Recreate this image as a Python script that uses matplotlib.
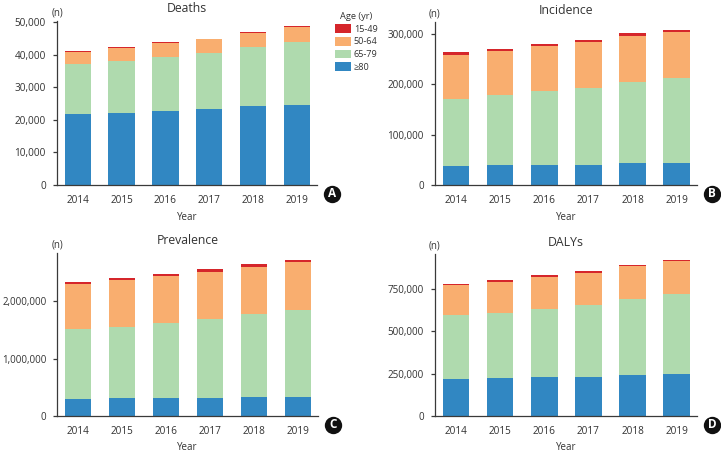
import matplotlib
matplotlib.use("Agg")
import matplotlib.pyplot as plt
from matplotlib.patches import Patch
import numpy as np

plt.rcParams['font.family'] = ['Open Sans', 'DejaVu Sans']

years = ["2014", "2015", "2016", "2017", "2018", "2019"]
age_groups = ["15-49", "50-64", "65-79", "\u226580"]

# Deaths (n)
deaths_80 = [21800, 22100, 22800, 23300, 24100, 24500]
deaths_65 = [15300, 16000, 16400, 17300, 18300, 19450]
deaths_50 = [3800, 4000, 4200, 4100, 4300, 4650]
deaths_15 = [300, 300, 350, 200, 300, 100]

# Incidence (n)
inc_80 = [37600, 38900, 40200, 40200, 42900, 43500]
inc_65 = [133200, 139100, 146400, 153000, 160800, 168100]
inc_50 = [87700, 87000, 89400, 90800, 92300, 91700]
inc_15 = [4500, 4000, 4000, 4000, 4600, 4700]

# Prevalence (n)
prev_80 = [302000, 314000, 308000, 320000, 331000, 331000]
prev_65 = [1210000, 1244000, 1308000, 1372000, 1442000, 1512000]
prev_50 = [790000, 808000, 820000, 825000, 826000, 837000]
prev_15 = [35000, 47000, 41000, 47000, 41000, 41000]

# DALYs (n)
daly_80 = [218500, 222000, 230000, 232000, 242000, 250000]
daly_65 = [374000, 386000, 400000, 423500, 449000, 468500]
daly_50 = [179000, 183000, 187000, 187000, 191000, 192500]
daly_15 = [8000, 12000, 12000, 13500, 10000, 10000]

colors = {"\u226580": "#3187c2", "65-79": "#afdaae", "50-64": "#f9ae6f", "15-49": "#d5262b"}

W, H = 721, 455
fig = plt.figure(figsize=(W / 100, H / 100), dpi=100)

def fx(px):
    return px / W

def fy(py):
    return 1 - py / H

panels = [
    dict(title="Deaths", letter="A", data=[deaths_80, deaths_65, deaths_50, deaths_15],
         box=(57, 317, 21, 185), ylim=50300, yticks=[0, 10000, 20000, 30000, 40000, 50000],
         ysize=7.2, ypad=5),
    dict(title="Incidence", letter="B", data=[inc_80, inc_65, inc_50, inc_15],
         box=(435, 697, 22, 185), ylim=323000, yticks=[0, 100000, 200000, 300000],
         ysize=7.1, ypad=5),
    dict(title="Prevalence", letter="C", data=[prev_80, prev_65, prev_50, prev_15],
         box=(57, 318, 253, 416), ylim=2840000, yticks=[0, 1000000, 2000000],
         ysize=7.0, ypad=4.5),
    dict(title="DALYs", letter="D", data=[daly_80, daly_65, daly_50, daly_15],
         box=(435, 697, 254, 416), ylim=955000, yticks=[0, 250000, 500000, 750000],
         ysize=7.1, ypad=5),
]

text_color = "#333333"
spine_color = "#3a3a3a"
order = ["\u226580", "65-79", "50-64", "15-49"]

for p in panels:
    l, r, t, b = p["box"]
    ax = fig.add_axes([fx(l), fy(b), fx(r - l), (b - t) / H])
    x = np.arange(len(years))
    bottom = np.zeros(len(years))
    for name, vals in zip(order, p["data"]):
        ax.bar(x, vals, width=0.6, bottom=bottom, color=colors[name], linewidth=0)
        bottom = bottom + np.array(vals)
    ax.set_xlim(-0.475, 5.46)
    ax.set_ylim(0, p["ylim"])
    ax.set_yticks(p["yticks"])
    ax.set_yticklabels([f"{v:,}" for v in p["yticks"]],
                       fontsize=p["ysize"], color=text_color)
    ax.set_xticks(x)
    ax.set_xticklabels(years, fontsize=7.2, color=text_color)
    ax.tick_params(axis="x", length=0, pad=7.5)
    ax.tick_params(axis="y", length=3, width=0.9, pad=p["ypad"], color=spine_color)
    for s in ["top", "right"]:
        ax.spines[s].set_visible(False)
    for s in ["left", "bottom"]:
        ax.spines[s].set_color(spine_color)
        ax.spines[s].set_linewidth(0.9)
    # title
    fig.text(fx((l + r) / 2), fy(t - 12), p["title"], ha="center", va="center",
             fontsize=8.8, color=text_color)
    # (n)
    fig.text(fx(l), fy(t - 8), "(n)", ha="center", va="center", fontsize=7, color=text_color)
    # Year
    fig.text(fx((l + r) / 2), fy(b + 32), "Year", ha="center", va="center",
             fontsize=7, color=text_color)
    # circled letter
    cx, cy = r + 15, b + 8.5
    fig.add_artist(plt.Line2D([fx(cx)], [fy(cy)], marker="o", markersize=12.5,
                              markerfacecolor="#111111", markeredgecolor="none",
                              transform=fig.transFigure))
    fig.text(fx(cx), fy(cy), p["letter"], ha="center", va="center", fontsize=8.5,
             fontweight="bold", color="white")

# Legend
handles = [Patch(facecolor=colors[n], edgecolor="none", label=n) for n in age_groups]
leg = fig.legend(handles=handles, title="Age (yr)", loc="upper left",
                 bbox_to_anchor=(fx(329), fy(6)), frameon=False, fontsize=6.6,
                 title_fontsize=6.7, handlelength=1.65, handleheight=1.1,
                 handletextpad=0.35, labelspacing=0.33, borderpad=0.2)
for txt in leg.get_texts():
    txt.set_color(text_color)
leg.get_title().set_color(text_color)

fig.savefig("out.png", dpi=100)
